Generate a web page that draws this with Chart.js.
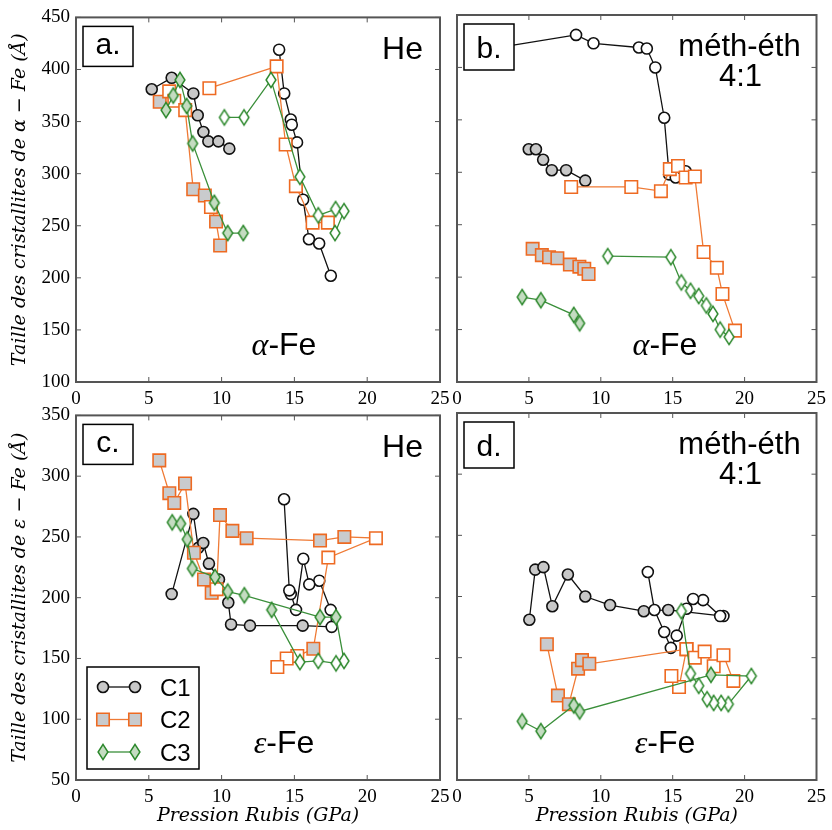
<!DOCTYPE html>
<html>
<head>
<meta charset="utf-8">
<script src="https://cdn.jsdelivr.net/npm/chart.js@4"></script>
<style>
  body { margin: 0; background: #fff; overflow: hidden; }
  #wrap { position: relative; width: 832px; height: 830px; }
  canvas { position: absolute; }
</style>
</head>
<body>
<div id="wrap">
  <canvas id="pa" width="460" height="410" style="left:0;top:0"></canvas>
  <canvas id="pb" width="451" height="410" style="left:381px;top:0"></canvas>
  <canvas id="pc" width="460" height="432" style="left:0;top:398px"></canvas>
  <canvas id="pd" width="451" height="432" style="left:381px;top:398px"></canvas>
</div>
<script>
// points are [pression GPa, taille Å, run] ; run 1 = first run (filled), 0 = second run (open)
const seriesNames = ["C1", "C2", "C3"];
const xRange = [0, 25, 5];
const yRangeAlpha = [100, 450, 50];
const yRangeEps = [50, 350, 50];

// a. alpha-Fe, He
const aC1_1 = [[5.2,381,1],[6.57,392,1],[8.06,377,1],[8.36,356,1],[8.75,340,1],[9.09,331,1],[9.78,331,1],[10.53,324,1]];
const aC1_2 = [[13.95,419,0],[14.3,377,0],[14.75,352,0],[14.82,347,0],[15.18,330,0],[15.6,275,0],[16.0,237,0],[16.7,233,0],[17.5,202,0]];
const aC2_1 = [[5.75,369,1],[6.4,379,0],[6.75,370,0],[7.5,361,0],[8.05,285,1],[8.85,279,1],[9.27,268,0],[9.62,254,1],[9.9,231,1]];
const aC2_2 = [[9.16,382,0],[13.78,403,0],[14.4,328,0],[15.1,288,0],[16.25,253,0],[17.3,253,0]];
const aC3_1 = [[6.18,361,1],[6.68,375,1],[7.14,390,1],[7.6,365,1],[8.01,329,1],[9.5,272,1],[10.42,243,1],[11.49,243,1]];
const aC3_2 = [[10.19,354,0],[11.54,354,0],[13.39,390,0],[15.38,297,0],[16.64,260,0],[17.83,266,0],[18.41,264,0],[17.79,243,0]];

// b. alpha-Fe, methanol-ethanol
const bC1_1 = [[4.99,322,1],[5.49,322,1],[5.99,312,1],[6.59,302,1],[7.59,302,1],[8.92,292,1]];
const bC1_2 = [[2.0,417,0],[8.28,431,0],[9.49,423,0],[12.65,419,0],[13.2,418,0],[13.79,400,0],[14.41,352,0],[14.75,298,0],[15.21,295,0],[15.9,301,0]];
const bC2_1 = [[5.26,227,1],[5.9,221,1],[6.4,219,1],[6.98,218,1],[7.85,212,1],[8.51,210,1],[8.85,208,1],[9.15,203,1]];
const bC2_2 = [[7.94,286,0],[12.12,286,0],[14.18,282,0],[14.8,303,0],[15.37,306,0],[15.9,295,0],[16.54,296,0],[17.15,224,0],[18.07,209,0],[18.46,184,0],[19.33,149,0]];
const bC3_1 = [[4.53,181,1],[5.83,178,1],[8.12,164,1],[8.53,156,1]];
const bC3_2 = [[10.48,220,0],[14.87,219,0],[15.6,195,0],[16.24,187,0],[16.81,182,0],[17.34,173,0],[17.8,165,0],[18.3,150,0],[18.92,143,0]];

// c. epsilon-Fe, He
const cC1 = [[6.57,203,1],[8.06,269,1],[8.4,241,1],[8.74,245,1],[9.13,228,1],[9.82,215,1],[10.46,196,1],[10.65,178,1],[11.95,177,1],[15.57,177,1],
             [17.56,176,0],[17.49,190,0],[16.71,214,0],[16.02,211,0],[15.61,232,0],[15.11,190,0],[14.75,203,0],[14.65,206,0],[14.29,281,0]];
const cC2 = [[5.72,313,1],[6.41,286,1],[6.75,278,1],[7.49,294,1],[8.1,237,1],[8.79,215,1],[9.32,204,1],[9.66,207,0],[9.89,268,1],[10.74,255,1],[11.72,249,1],
             [16.76,247,1],[18.43,250,1],[20.6,249,0],[17.33,233,0],[16.3,158,1],[15.2,152,0],[14.47,150,0],[13.83,143,0]];
const cC3 = [[6.61,262,1],[7.19,261,1],[7.64,248,1],[7.99,224,1],[9.55,217,1],[10.42,205,1],[11.56,202,1],[16.76,184,1],[17.86,184,1],
             [18.41,148,0],[17.86,146,0],[16.64,148,0],[15.38,147,0],[13.44,190,1]];

// d. epsilon-Fe, methanol-ethanol
const dC1 = [[5.03,181,1],[5.44,222,1],[6.01,224,1],[6.63,192,1],[7.71,218,1],[8.92,200,1],[10.64,193,1],[12.99,188,1],[14.69,189,1],
             [18.53,184,0],[18.3,184,0],[17.11,197,0],[16.42,198,0],[15.96,190,0],[15.28,168,0],[14.87,158,0],[14.41,171,0],[13.73,189,0],[13.27,220,0]];
const dC2_1 = [[6.25,161,1],[7.02,119,1],[7.78,112,1],[8.42,141,1],[8.69,148,1],[9.2,145,1],
               [15.96,157,0],[16.54,150,0],[17.22,155,0],[17.85,143,0],[18.53,152,0],[19.22,131,0]];
const dC2_2 = [[15.96,157,0],[15.44,126,0],[14.91,135,0]];
const dC3 = [[4.53,98,1],[5.83,90,1],[8.12,111,1],[8.53,106,1],[17.66,136,1],[20.47,135,0],[18.87,112,0],[18.37,113,0],
             [17.85,113,0],[17.39,116,0],[16.81,127,0],[16.24,137,0],[15.6,188,0]];

const panelLetters = ["a.", "b.", "c.", "d."];
const mediums = [["He"], ["méth-éth", "4:1"], ["He"], ["méth-éth", "4:1"]];
const phases = [["α", "-Fe"], ["α", "-Fe"], ["ε", "-Fe"], ["ε", "-Fe"]];
const yTitles = ["Taille des cristallites de α − Fe (Å)", "Taille des cristallites de ε − Fe (Å)"];
const xTitle = "Pression Rubis (GPa)";

const SANS = '"Liberation Sans", Arial, sans-serif';
const SERIF = '"Liberation Serif", "DejaVu Serif", serif';
const TITLE_SERIF = '"DejaVu Serif", serif';
const FRAME = "#555555";

function diamond(fill, edge) {
    const c = document.createElement("canvas");
    c.width = 14; c.height = 20;
    const g = c.getContext("2d");
    g.beginPath();
    g.moveTo(7, 2.4); g.lineTo(11.9, 10); g.lineTo(7, 17.6); g.lineTo(2.1, 10);
    g.closePath();
    g.fillStyle = fill; g.fill();
    g.lineWidth = 1.5; g.strokeStyle = edge; g.stroke();
    return c;
}

const STYLES = {
    C1: { edge: "#111111", line: "#111111", fill: "#c8c8c8", shape: "circle", radius: 5.5, order: 3 },
    C2: { edge: "#ee6a22", line: "#ef7a35", fill: "#c9cbcd", shape: "rect", radius: 8.8, order: 2 },
    C3: { edge: "#2c882c", line: "#3a8f3a", fill: "#c4dcc1", shape: "diamond", radius: 7, order: 1 },
};
STYLES.C3.imgFilled = diamond(STYLES.C3.fill, STYLES.C3.edge);
STYLES.C3.imgOpen = diamond("#ffffff", STYLES.C3.edge);

function makeDataset(name, seg) {
    const st = STYLES[name];
    return {
        label: name,
        data: seg.map(p => ({ x: p[0], y: p[1] })),
        showLine: true,
        borderColor: st.line,
        borderWidth: 1.3,
        pointStyle: st.shape === "diamond" ? seg.map(p => p[2] ? st.imgFilled : st.imgOpen) : st.shape,
        pointRadius: st.radius,
        pointBorderColor: st.edge,
        pointBorderWidth: 1.6,
        pointBackgroundColor: seg.map(p => p[2] ? st.fill : "#ffffff"),
        order: st.order,
    };
}

// frame and inward ticks, like the original plot
const framePlugin = {
    id: "frame",
    beforeDatasetsDraw(chart) {
        const { ctx, chartArea: ca, scales } = chart;
        ctx.save();
        ctx.strokeStyle = FRAME;
        ctx.lineWidth = 1;
        scales.x.ticks.forEach(t => {
            const px = scales.x.getPixelForValue(t.value);
            ctx.beginPath();
            ctx.moveTo(px, ca.bottom); ctx.lineTo(px, ca.bottom - 5);
            ctx.moveTo(px, ca.top); ctx.lineTo(px, ca.top + 5);
            ctx.stroke();
        });
        scales.y.ticks.forEach(t => {
            const py = scales.y.getPixelForValue(t.value);
            ctx.beginPath();
            ctx.moveTo(ca.left, py); ctx.lineTo(ca.left + 5, py);
            ctx.moveTo(ca.right, py); ctx.lineTo(ca.right - 5, py);
            ctx.stroke();
        });
        ctx.lineWidth = 2;
        ctx.strokeRect(ca.left, ca.top, ca.right - ca.left, ca.bottom - ca.top);
        ctx.restore();
    }
};

function annotPlugin(i, withLegend) {
    return {
        id: "annot" + i,
        afterDatasetsDraw(chart) {
            const { ctx, chartArea: ca } = chart;
            ctx.save();
            // panel letter in a box
            ctx.font = "30px " + SANS;
            const asc = ctx.measureText(panelLetters[i]).actualBoundingBoxAscent;
            const bx = ca.left + 7, by = ca.top + 9, bw = 50, bh = asc + 24;
            ctx.fillStyle = "#fff";
            ctx.fillRect(bx, by, bw, bh);
            ctx.strokeStyle = "#000"; ctx.lineWidth = 1.5;
            ctx.strokeRect(bx, by, bw, bh);
            ctx.fillStyle = "#000";
            ctx.textAlign = "center"; ctx.textBaseline = "alphabetic";
            ctx.fillText(panelLetters[i], bx + bw / 2, by + 12 + asc);

            // pressure medium
            const med = mediums[i];
            if (med.length === 1) {
                ctx.font = "32px " + SANS;
                ctx.textAlign = "right";
                ctx.fillText(med[0], ca.right - 17, ca.top + 42);
            } else {
                ctx.font = "31px " + SANS;
                ctx.textAlign = "center";
                ctx.fillText(med[0], ca.right - 77, ca.top + 41);
                ctx.fillText(med[1], ca.right - 76, ca.top + 71);
            }

            // phase
            const [g, rest] = phases[i];
            ctx.textAlign = "left";
            ctx.font = "italic 32px " + SERIF;
            const gw = ctx.measureText(g).width;
            ctx.font = "32px " + SANS;
            const rw = ctx.measureText(rest).width;
            const x0 = ca.left + 208 - (gw + rw) / 2, yb = ca.bottom - 27;
            ctx.font = "italic 32px " + SERIF;
            ctx.fillText(g, x0, yb);
            ctx.font = "32px " + SANS;
            ctx.fillText(rest, x0 + gw, yb);

            if (withLegend) {
                const lx = ca.left + 11, ly = ca.bottom - 113, lw = 112, lh = 102;
                ctx.fillStyle = "#fff";
                ctx.fillRect(lx, ly, lw, lh);
                ctx.strokeStyle = "#000"; ctx.lineWidth = 1.5;
                ctx.strokeRect(lx, ly, lw, lh);
                seriesNames.forEach((name, k) => {
                    const st = STYLES[name];
                    const y = ly + 20 + k * 32.5;
                    ctx.strokeStyle = st.line; ctx.lineWidth = 1.3;
                    ctx.beginPath(); ctx.moveTo(lx + 16, y); ctx.lineTo(lx + 48, y); ctx.stroke();
                    [lx + 16, lx + 48].forEach(px => {
                        ctx.fillStyle = st.fill; ctx.strokeStyle = st.edge; ctx.lineWidth = 1.6;
                        Chart.helpers.drawPoint(ctx, {
                            pointStyle: st.shape === "diamond" ? st.imgFilled : st.shape,
                            radius: st.radius, rotation: 0, borderWidth: 1.6
                        }, px, y);
                    });
                    ctx.fillStyle = "#000";
                    ctx.font = "24px " + SANS;
                    ctx.textAlign = "left";
                    ctx.fillText(name, lx + 73, y + 8.5);
                });
            }
            ctx.restore();
        }
    };
}

function makeChart(id, i, sets, yRange, showY, yTitle, showXTitle, padRight) {
    const datasets = [];
    sets.forEach(([name, segs]) => segs.forEach(seg => datasets.push(makeDataset(name, seg))));
    return new Chart(document.getElementById(id), {
        type: "scatter",
        data: { datasets },
        options: {
            responsive: false,
            animation: false,
            events: [],
            layout: { padding: { top: 15, right: padRight, left: 0, bottom: 0 } },
            plugins: { legend: { display: false }, tooltip: { enabled: false } },
            scales: {
                x: {
                    type: "linear", min: xRange[0], max: xRange[1],
                    ticks: { stepSize: xRange[2], padding: 6, color: "#000", font: { family: SERIF, size: 19 } },
                    grid: { display: false, drawTicks: false },
                    border: { display: false },
                    title: {
                        display: showXTitle, text: xTitle, color: "#000",
                        font: { family: TITLE_SERIF, size: 19, style: "italic" }, padding: { top: 0, bottom: 3 }
                    },
                    afterFit: s => { s.height = showXTitle ? 50 : 28; }
                },
                y: {
                    type: "linear", min: yRange[0], max: yRange[1],
                    ticks: { display: showY, stepSize: yRange[2], padding: 6, color: "#000", font: { family: SERIF, size: 19 } },
                    grid: { display: false, drawTicks: false },
                    border: { display: false },
                    title: {
                        display: !!yTitle, text: yTitle || "", color: "#000",
                        font: { family: TITLE_SERIF, size: 19, style: "italic" }, padding: { top: 9, bottom: 0 }
                    },
                    afterFit: s => { s.width = 76; }
                }
            }
        },
        plugins: [framePlugin, annotPlugin(i, id === "pc")]
    });
}

makeChart("pa", 0, [["C1", [aC1_1, aC1_2]], ["C2", [aC2_1, aC2_2]], ["C3", [aC3_1, aC3_2]]], yRangeAlpha, true, yTitles[0], false, 20);
makeChart("pb", 1, [["C1", [bC1_1, bC1_2]], ["C2", [bC2_1, bC2_2]], ["C3", [bC3_1, bC3_2]]], yRangeAlpha, false, null, false, 11);
makeChart("pc", 2, [["C1", [cC1]], ["C2", [cC2]], ["C3", [cC3]]], yRangeEps, true, yTitles[1], true, 20);
makeChart("pd", 3, [["C1", [dC1]], ["C2", [dC2_1, dC2_2]], ["C3", [dC3]]], yRangeEps, false, null, true, 11);
</script>
</body>
</html>
